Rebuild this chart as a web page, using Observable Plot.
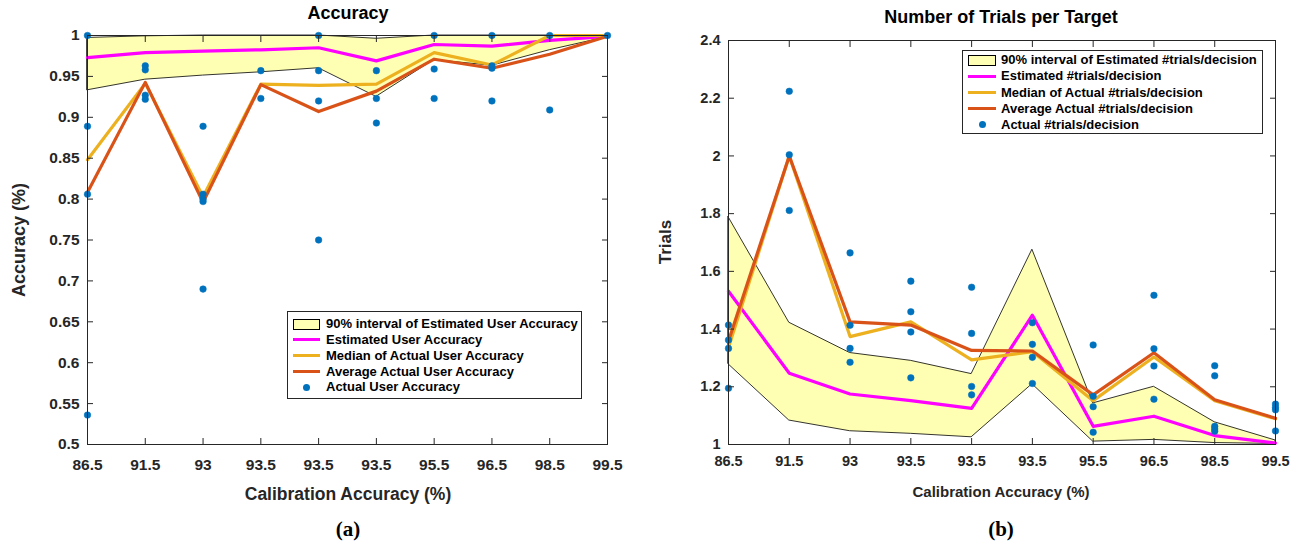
<!DOCTYPE html>
<html><head><meta charset="utf-8">
<script src="https://cdn.jsdelivr.net/npm/d3@7"></script>
<script src="https://cdn.jsdelivr.net/npm/@observablehq/plot@0.6"></script>
<style>
body{margin:0;background:#fff;}
#wrap{position:relative;width:1304px;height:546px;font-family:"Liberation Sans",Arial,sans-serif;font-weight:bold;color:#000;overflow:hidden}
.abs{position:absolute;white-space:nowrap}
.plot{position:absolute;top:0}
.legend{position:absolute;border:1px solid #262626;background:#fff;box-sizing:border-box}
.sw{position:absolute;box-sizing:border-box}
.lab{position:absolute;white-space:nowrap}
.cap{font-family:"Liberation Serif","Times New Roman",serif;font-size:21px;transform:translateX(-50%)}
</style></head><body><div id="wrap"></div>
<script>
// ---------- data ----------
const calibLabels = ["86.5","91.5","93","93.5","93.5","93.5","95.5","96.5","98.5","99.5"];

// (a) Accuracy
const accBandLow  = [0.933,0.946,0.951,0.955,0.960,0.925,0.970,0.963,0.982,0.998];
const accBandHigh = [0.997,0.999,1.0,1.0,1.0,0.996,1.0,1.0,1.0,1.0];
const accEstimated = [0.973,0.979,0.981,0.9825,0.985,0.969,0.989,0.987,0.994,0.999];
const accMedian   = [0.848,0.9415,0.803,0.9405,0.939,0.9405,0.979,0.964,1.0,1.0];
const accAverage  = [0.8085,0.9427,0.796,0.940,0.907,0.932,0.971,0.960,0.977,0.999];
const accActual = [
  [1.0,0.889,0.806,0.536],
  [0.963,0.958,0.927,0.922],
  [0.889,0.806,0.800,0.797,0.690],
  [0.957,0.923],
  [1.0,0.957,0.920,0.750],
  [0.957,0.923,0.893],
  [1.0,0.959,0.923],
  [1.0,0.963,0.960,0.920],
  [1.0,0.909],
  [1.0]
];
const accTicks = [0.5,0.55,0.6,0.65,0.7,0.75,0.8,0.85,0.9,0.95,1];

// (b) Number of trials
const trBandLow  = [1.278,1.083,1.046,1.037,1.025,1.209,1.010,1.016,1.005,1.002];
const trBandHigh = [1.788,1.422,1.317,1.290,1.244,1.675,1.1425,1.200,1.077,1.014];
const trEstimated = [1.531,1.247,1.175,1.152,1.125,1.448,1.063,1.098,1.031,1.005];
const trMedian   = [1.336,2.0,1.374,1.425,1.293,1.322,1.152,1.303,1.152,1.089];
const trAverage  = [1.359,2.0,1.425,1.414,1.326,1.324,1.172,1.318,1.155,1.091];
const trActual = [
  [1.414,1.362,1.333,1.195],
  [2.224,2.004,1.811],
  [1.664,1.413,1.333,1.285],
  [1.566,1.460,1.390,1.231],
  [1.545,1.385,1.201,1.172],
  [1.422,1.347,1.302,1.2115],
  [1.345,1.167,1.131,1.0425],
  [1.517,1.332,1.272,1.157],
  [1.273,1.238,1.063,1.054,1.046],
  [1.140,1.129,1.120,1.047]
];
const trTicks = [1,1.2,1.4,1.6,1.8,2,2.2,2.4];

// ---------- colours ----------
const C = {band:"#ffffb3", est:"#ff00ff", med:"#edb120", avg:"#d95319", dot:"#0072bd", axis:"#262626"};

const wrap = document.getElementById("wrap");
const idx = d3.range(calibLabels.length);
const fmt = d => String(+d.toFixed(2));

function chart({left, width, height, mt, mb, ml, mr, yDomain, yTicks, band, est, med, avg, actual, fontSize, xPad}) {
  const bandData = idx.map(i => ({i, lo: band[0][i], hi: band[1][i]}));
  const line = arr => idx.map(i => ({i, v: arr[i]}));
  const dots = actual.flatMap((vals, i) => vals.map(v => ({i, v})));
  const p = Plot.plot({
    width, height, marginTop: mt, marginBottom: mb, marginLeft: ml, marginRight: mr,
    style: {fontFamily: "'Liberation Sans', Arial, sans-serif", fontWeight: "bold", fontSize: fontSize + "px", color: "#000", overflow: "visible", background: "transparent"},
    x: {type: "linear", domain: [0, idx.length - 1]},
    y: {type: "linear", domain: yDomain},
    marks: [
      Plot.areaY(bandData, {x: "i", y1: "lo", y2: "hi", fill: C.band, stroke: "#000", strokeWidth: 0.8}),
      Plot.lineY(line(est), {x: "i", y: "v", stroke: C.est, strokeWidth: 3.2}),
      Plot.lineY(line(med), {x: "i", y: "v", stroke: C.med, strokeWidth: 3.2}),
      Plot.lineY(line(avg), {x: "i", y: "v", stroke: C.avg, strokeWidth: 3.2}),
      Plot.dot(dots, {x: "i", y: "v", r: 3.3, fill: C.dot, stroke: C.dot, strokeWidth: 0.5}),
      Plot.frame({stroke: C.axis, strokeWidth: 1}),
      Plot.axisX({anchor: "bottom", ticks: idx, tickFormat: i => calibLabels[i], tickSize: 0, tickPadding: xPad, label: null, fill: "#262626"}),
      Plot.axisX({anchor: "bottom", ticks: idx, tickFormat: () => "", tickSize: -6, label: null, stroke: C.axis}),
      Plot.axisX({anchor: "top", ticks: idx, tickFormat: () => "", tickSize: -6, label: null, stroke: C.axis}),
      Plot.axisY({anchor: "left", ticks: yTicks, tickFormat: fmt, tickSize: 0, tickPadding: 8, label: null, fill: "#262626"}),
      Plot.axisY({anchor: "left", ticks: yTicks, tickFormat: () => "", tickSize: -6, label: null, stroke: C.axis}),
      Plot.axisY({anchor: "right", ticks: yTicks, tickFormat: () => "", tickSize: -6, label: null, stroke: C.axis})
    ]
  });
  p.classList.add("plot");
  p.style.left = left + "px";
  wrap.appendChild(p);
}

chart({left: 0, width: 650, height: 480, mt: 35, mb: 36, ml: 87, mr: 43,
  yDomain: [0.5, 1], yTicks: accTicks, band: [accBandLow, accBandHigh],
  est: accEstimated, med: accMedian, avg: accAverage, actual: accActual, fontSize: 15.5, xPad: 14});

chart({left: 650, width: 654, height: 480, mt: 40, mb: 36, ml: 78, mr: 29,
  yDomain: [1, 2.4], yTicks: trTicks, band: [trBandLow, trBandHigh],
  est: trEstimated, med: trMedian, avg: trAverage, actual: trActual, fontSize: 14.5, xPad: 11});

function text(str, x, y, size, opts = {}) {
  const d = document.createElement("div");
  d.className = "abs " + (opts.cls || "");
  d.textContent = str;
  d.style.fontSize = size + "px";
  d.style.left = x + "px";
  d.style.top = y + "px";
  d.style.color = opts.color || "#262626";
  if (opts.rotate) {
    d.style.transform = "translate(-50%,-50%) rotate(-90deg)";
  } else if (!opts.cls) {
    d.style.transform = "translate(-50%,-50%)";
  }
  wrap.appendChild(d);
  return d;
}

// titles and labels
text("Accuracy", 348, 13, 18, {color: "#000"});
text("Number of Trials per Target", 1001, 17, 18, {color: "#000"});
text("Calibration Accuracy (%)", 348, 494, 17.5);
text("Calibration Accuracy (%)", 1001, 491, 15);
text("Accuracy (%)", 19, 240, 18, {rotate: true});
text("Trials", 666, 242, 17, {rotate: true});
text("(a)", 348, 517, 21, {cls: "cap", color: "#000"});
text("(b)", 1001, 517, 21, {cls: "cap", color: "#000"});

function legend(box, rows, fontSize, rowH, swX, swW, txtX) {
  const L = document.createElement("div");
  L.className = "legend";
  Object.assign(L.style, {left: box.x + "px", top: box.y + "px", width: box.w + "px", height: box.h + "px"});
  rows.forEach((r, k) => {
    const cy = box.pad + k * rowH;
    const sw = document.createElement("div");
    sw.className = "sw";
    if (r.type === "band") {
      Object.assign(sw.style, {left: swX + "px", top: (cy - 5.5) + "px", width: swW + "px", height: "11px", background: C.band, border: "1px solid #000"});
    } else if (r.type === "line") {
      Object.assign(sw.style, {left: swX + "px", top: (cy - 1.5) + "px", width: swW + "px", height: "3px", background: r.color});
    } else {
      Object.assign(sw.style, {left: (swX + swW / 2 - 3.5) + "px", top: (cy - 3.5) + "px", width: "7px", height: "7px", borderRadius: "50%", background: C.dot});
    }
    L.appendChild(sw);
    const t = document.createElement("div");
    t.className = "lab";
    t.textContent = r.label;
    Object.assign(t.style, {left: txtX + "px", top: (cy - fontSize * 0.6) + "px", fontSize: fontSize + "px", lineHeight: (fontSize * 1.2) + "px", color: "#000"});
    L.appendChild(t);
  });
  wrap.appendChild(L);
}

legend({x: 287, y: 311, w: 295, h: 88, pad: 12},
  [{type: "band", label: "90% interval of Estimated User Accuracy"},
   {type: "line", color: C.est, label: "Estimated User Accuracy"},
   {type: "line", color: C.med, label: "Median of Actual User Accuracy"},
   {type: "line", color: C.avg, label: "Average Actual User Accuracy"},
   {type: "dot", label: "Actual User Accuracy"}], 13, 15.8, 5, 27, 38);

legend({x: 962, y: 50, w: 301, h: 84, pad: 9},
  [{type: "band", label: "90% interval of Estimated #trials/decision"},
   {type: "line", color: C.est, label: "Estimated #trials/decision"},
   {type: "line", color: C.med, label: "Median of Actual #trials/decision"},
   {type: "line", color: C.avg, label: "Average Actual #trials/decision"},
   {type: "dot", label: "Actual #trials/decision"}], 13, 16.2, 5, 28, 38);
</script>
</body></html>
